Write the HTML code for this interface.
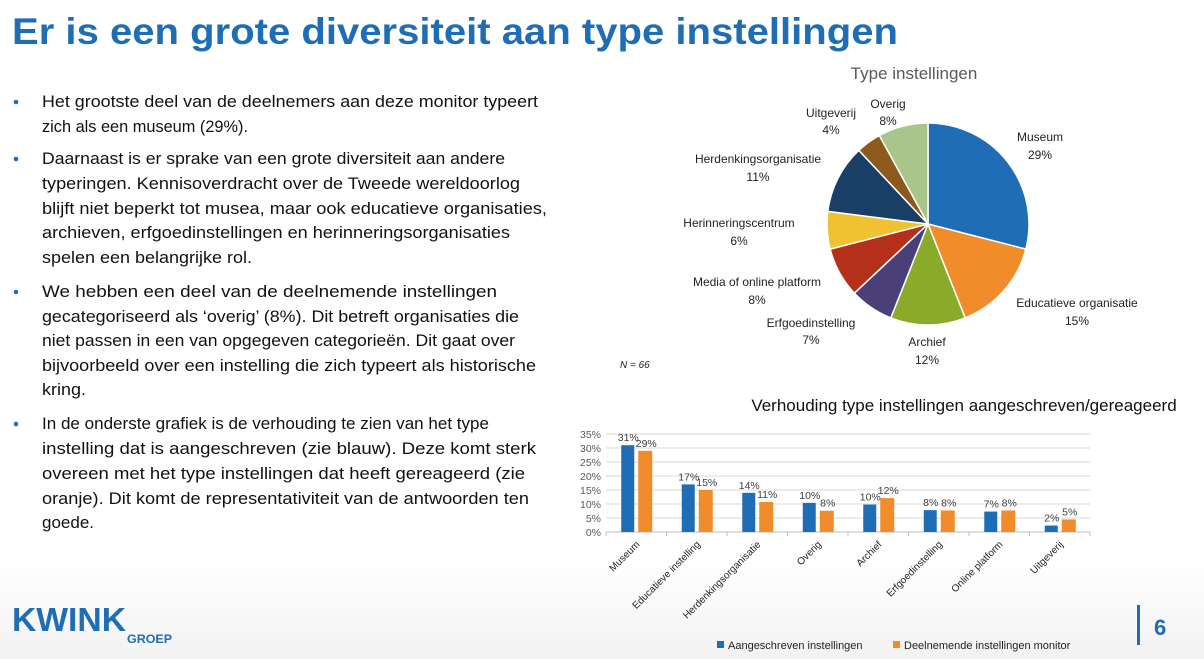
<!DOCTYPE html>
<html><head><meta charset="utf-8"><style>
html,body{margin:0;padding:0;background:#fff}
svg{display:block;font-family:"Liberation Sans",sans-serif}
</style></head><body>
<svg id="s" width="1204" height="659" viewBox="0 0 1204 659" xmlns="http://www.w3.org/2000/svg">
<defs><linearGradient id="bg" x1="0" y1="0" x2="0" y2="1"><stop offset="0.85" stop-color="#fff"/><stop offset="1" stop-color="#f2f2f2"/></linearGradient></defs>
<rect width="1204" height="659" fill="url(#bg)"/>
<text x="12" y="44" font-size="37" font-weight="bold" fill="#1f6db5" textLength="886" lengthAdjust="spacingAndGlyphs">Er is een grote diversiteit aan type instellingen</text>
<g font-size="17" fill="#111">
<g fill="#1f6db5"><circle cx="16" cy="102" r="2.3"/><circle cx="16" cy="159" r="2.3"/><circle cx="16" cy="292" r="2.3"/><circle cx="16" cy="424" r="2.3"/></g>
<text x="42" y="107" textLength="496" lengthAdjust="spacingAndGlyphs">Het grootste deel van de deelnemers aan deze monitor typeert</text>
<text x="42" y="132" textLength="206" lengthAdjust="spacingAndGlyphs">zich als een museum (29%).</text>
<text x="42" y="164" textLength="463" lengthAdjust="spacingAndGlyphs">Daarnaast is er sprake van een grote diversiteit aan andere</text>
<text x="42" y="189" textLength="478" lengthAdjust="spacingAndGlyphs">typeringen. Kennisoverdracht over de Tweede wereldoorlog</text>
<text x="42" y="214" textLength="505" lengthAdjust="spacingAndGlyphs">blijft niet beperkt tot musea, maar ook educatieve organisaties,</text>
<text x="42" y="238" textLength="468" lengthAdjust="spacingAndGlyphs">archieven, erfgoedinstellingen en herinneringsorganisaties</text>
<text x="42" y="263" textLength="210" lengthAdjust="spacingAndGlyphs">spelen een belangrijke rol.</text>
<text x="42" y="297" textLength="455" lengthAdjust="spacingAndGlyphs">We hebben een deel van de deelnemende instellingen</text>
<text x="42" y="322" textLength="477" lengthAdjust="spacingAndGlyphs">gecategoriseerd als ‘overig’ (8%). Dit betreft organisaties die</text>
<text x="42" y="346" textLength="473" lengthAdjust="spacingAndGlyphs">niet passen in een van opgegeven categorieën. Dit gaat over</text>
<text x="42" y="371" textLength="494" lengthAdjust="spacingAndGlyphs">bijvoorbeeld over een instelling die zich typeert als historische</text>
<text x="42" y="395" textLength="44" lengthAdjust="spacingAndGlyphs">kring.</text>
<text x="42" y="429" textLength="447" lengthAdjust="spacingAndGlyphs">In de onderste grafiek is de verhouding te zien van het type</text>
<text x="42" y="454" textLength="494" lengthAdjust="spacingAndGlyphs">instelling dat is aangeschreven (zie blauw). Deze komt sterk</text>
<text x="42" y="479" textLength="483" lengthAdjust="spacingAndGlyphs">overeen met het type instellingen dat heeft gereageerd (zie</text>
<text x="42" y="504" textLength="487" lengthAdjust="spacingAndGlyphs">oranje). Dit komt de representativiteit van de antwoorden ten</text>
<text x="42" y="528" textLength="52" lengthAdjust="spacingAndGlyphs">goede.</text>
</g>
<text x="12" y="631" font-size="33" font-weight="bold" fill="#1f6db5" textLength="114" lengthAdjust="spacingAndGlyphs">KWINK</text>
<text x="127" y="643" font-size="12" font-weight="bold" fill="#1f6db5" textLength="45" lengthAdjust="spacingAndGlyphs">GROEP</text>
<rect x="1137" y="605" width="3" height="40" fill="#1f6db5"/>
<text x="1154" y="635" font-size="22" font-weight="bold" fill="#1f6db5">6</text>

<text x="914" y="79" font-size="17" fill="#595959" text-anchor="middle">Type instellingen</text>
<g id="pie"></g>
<g font-size="12" fill="#222" text-anchor="middle">
<text x="1040" y="141">Museum</text><text x="1040" y="159">29%</text>
<text x="1077" y="307">Educatieve organisatie</text><text x="1077" y="325">15%</text>
<text x="927" y="346">Archief</text><text x="927" y="364">12%</text>
<text x="811" y="327">Erfgoedinstelling</text><text x="811" y="344">7%</text>
<text x="757" y="286">Media of online platform</text><text x="757" y="304">8%</text>
<text x="739" y="227">Herinneringscentrum</text><text x="739" y="245">6%</text>
<text x="758" y="163">Herdenkingsorganisatie</text><text x="758" y="181">11%</text>
<text x="831" y="117">Uitgeverij</text><text x="831" y="134">4%</text>
<text x="888" y="108">Overig</text><text x="888" y="125">8%</text>
</g>
<text x="620" y="368" font-size="10" font-style="italic" fill="#222">N = 66</text>

<text x="964" y="411" font-size="17" fill="#111" text-anchor="middle">Verhouding type instellingen aangeschreven/gereageerd</text>
<g id="bar"></g>
<rect x="717" y="641" width="7" height="7" fill="#1f6db5"/>
<text x="728" y="649" font-size="11" fill="#222">Aangeschreven instellingen</text>
<rect x="893" y="641" width="7" height="7" fill="#f08c2a"/>
<text x="904" y="649" font-size="11" fill="#222">Deelnemende instellingen monitor</text>
</svg>
<script>
var NS="http://www.w3.org/2000/svg";
function el(p,t,a,txt){var e=document.createElementNS(NS,t);for(var k in a)e.setAttribute(k,a[k]);if(txt!=null)e.textContent=txt;p.appendChild(e);return e;}
var pie=document.getElementById("pie");
var vals=[29,15,12,7,8,6,11,4,8],cols=["#1f6db5","#f08c2a","#8aab2a","#4b3f7a","#b5301b","#f0c232","#1a3f66","#8c5a1c","#a9c58a"];
var cx=928,cy=224,r=101,a=-Math.PI/2;
vals.forEach(function(v,i){var b=a+v/100*2*Math.PI;
var d="M"+cx+","+cy+"L"+(cx+r*Math.cos(a))+","+(cy+r*Math.sin(a))+"A"+r+","+r+" 0 "+(v>50?1:0)+" 1 "+(cx+r*Math.cos(b))+","+(cy+r*Math.sin(b))+"Z";
el(pie,"path",{d:d,fill:cols[i],stroke:"#fff","stroke-width":"1.5"});a=b;});
var bar=document.getElementById("bar");
var y0=532,k=2.8,x0=606,w=60.5;
for(var p=0;p<=35;p+=5){var y=y0-p*k;el(bar,"line",{x1:x0,x2:1090,y1:y,y2:y,stroke:"#d9d9d9","stroke-width":"1"});
el(bar,"text",{x:601,y:y+4,"font-size":"10.5",fill:"#595959","text-anchor":"end"},p+"%");}
el(bar,"line",{x1:x0,x2:1090,y1:y0,y2:y0,stroke:"#bfbfbf","stroke-width":"1"});
var cats=["Museum","Educatieve instelling","Herdenkingsorganisatie","Overig","Archief","Erfgoedinstelling","Online platform","Uitgeverij"];
var B=[31,17,14,10.4,9.8,7.8,7.3,2.3],O=[29,15,10.7,7.6,12.1,7.7,7.7,4.5];
var BL=["31%","17%","14%","10%","10%","8%","7%","2%"],OL=["29%","15%","11%","8%","12%","8%","8%","5%"];
cats.forEach(function(c,i){var m=x0+w*(i+0.5);
el(bar,"line",{x1:x0+w*i,x2:x0+w*i,y1:y0,y2:y0+4,stroke:"#bfbfbf"});
el(bar,"rect",{x:m-15,y:y0-B[i]*k,width:13,height:B[i]*k,fill:"#1f6db5"});
el(bar,"rect",{x:m+2,y:y0-O[i]*k,width:14,height:O[i]*k,fill:"#f08c2a"});
el(bar,"text",{x:m-8,y:y0-B[i]*k-4,"font-size":"10.5",fill:"#404040","text-anchor":"middle"},BL[i]);
el(bar,"text",{x:m+10,y:y0-O[i]*k-4,"font-size":"10.5",fill:"#404040","text-anchor":"middle"},OL[i]);
el(bar,"text",{x:m+4,y:545,"font-size":"10",fill:"#222","text-anchor":"end",transform:"rotate(-45 "+(m+4)+" 545)"},c);
});
el(bar,"line",{x1:1090,x2:1090,y1:y0,y2:y0+4,stroke:"#bfbfbf"});
</script>
</body></html>
